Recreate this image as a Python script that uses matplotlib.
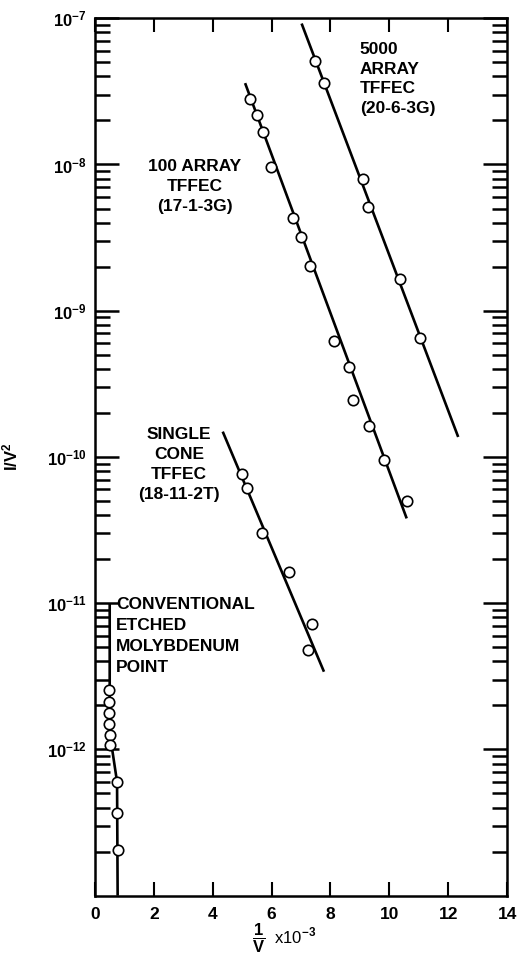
import matplotlib.pyplot as plt
from matplotlib.ticker import FixedLocator, NullFormatter

plt.rcParams['font.family'] = ['Liberation Sans', 'DejaVu Sans']
plt.rcParams['font.weight'] = 'bold'
plt.rcParams['mathtext.fontset'] = 'custom'
plt.rcParams['mathtext.rm'] = 'Liberation Sans:bold'
plt.rcParams['mathtext.default'] = 'rm'

# 5000 array TFFEC (20-6-3G)
a5000_x = [7.48, 7.79, 9.10, 9.29, 10.36, 11.04]
a5000_y = [5.1e-8, 3.6e-8, 8.0e-9, 5.1e-9, 1.64e-9, 6.5e-10]
a5000_fit_x = [7.02, 12.34]
a5000_fit_y = [9.2e-8, 1.37e-10]

# 100 array TFFEC (17-1-3G)
a100_x = [5.27, 5.49, 5.70, 5.98, 6.74, 6.99, 7.31, 8.13, 8.63, 8.78, 9.31, 9.82, 10.59]
a100_y = [2.8e-8, 2.17e-8, 1.66e-8, 9.6e-9, 4.3e-9, 3.2e-9, 2.03e-9,
          6.2e-10, 4.1e-10, 2.45e-10, 1.63e-10, 9.5e-11, 5.0e-11]
a100_fit_x = [5.10, 10.59]
a100_fit_y = [3.6e-8, 3.8e-11]

# single cone TFFEC (18-11-2T)
cone_x = [4.99, 5.18, 5.69, 6.59, 7.38, 7.25]
cone_y = [7.7e-11, 6.1e-11, 3.0e-11, 1.63e-11, 7.2e-12, 4.8e-12]
cone_fit_x = [4.34, 7.78]
cone_fit_y = [1.49e-10, 3.4e-12]

# conventional etched molybdenum point
moly_x = [0.46, 0.47, 0.48, 0.49, 0.50, 0.52, 0.75, 0.75, 0.77]
moly_y = [2.55e-12, 2.1e-12, 1.78e-12, 1.5e-12, 1.26e-12, 1.07e-12,
          6.0e-13, 3.7e-13, 2.05e-13]
moly_fit_x = [0.50, 0.50, 0.75, 0.77]
moly_fit_y = [1.0e-11, 1.3e-12, 6.0e-13, 1.0e-13]

x_ticks = [0, 2, 4, 6, 8, 10, 12, 14]
y_decades = [1e-12, 1e-11, 1e-10, 1e-9, 1e-8, 1e-7]
y_labels = ['$10^{-12}$', '$10^{-11}$', '$10^{-10}$', '$10^{-9}$', '$10^{-8}$', '$10^{-7}$']

fig = plt.figure(figsize=(5.19, 9.6), dpi=100)
ax = fig.add_axes([0.183, 0.067, 0.794, 0.914])
ax.set_yscale('log')
ax.set_xlim(0, 14)
ax.set_ylim(1e-13, 1e-7)

line_kw = dict(color='black', lw=1.9, solid_capstyle='butt', zorder=2)
mark_kw = dict(ls='none', marker='o', ms=7.5, mfc='white', mec='black', mew=1.2, zorder=3)

for fx, fy, px, py in [(a5000_fit_x, a5000_fit_y, a5000_x, a5000_y),
                       (a100_fit_x, a100_fit_y, a100_x, a100_y),
                       (cone_fit_x, cone_fit_y, cone_x, cone_y),
                       (moly_fit_x, moly_fit_y, moly_x, moly_y)]:
    ax.plot(fx, fy, **line_kw)
    ax.plot(px, py, **mark_kw)

# series captions
cap = dict(fontsize=12.5, linespacing=1.4)
ax.text(9.0, 6.9e-8, '5000\nARRAY\nTFFEC\n(20-6-3G)', ha='left', va='top', **cap)
ax.text(3.4, 7.1e-9, '100 ARRAY\nTFFEC\n(17-1-3G)',
        ha='center', va='center', multialignment='center', **cap)
ax.text(2.85, 8.9e-11, 'SINGLE\nCONE\nTFFEC\n(18-11-2T)',
        ha='center', va='center', multialignment='center', **cap)
ax.text(0.72, 1.1e-11, 'CONVENTIONAL\nETCHED\nMOLYBDENUM\nPOINT',
        ha='left', va='top', fontsize=12.5, linespacing=1.5)

# axes, ticks and labels
for side in ['left', 'right', 'top', 'bottom']:
    ax.spines[side].set_linewidth(1.8)

ax.set_xticks(x_ticks)
ax.set_xticklabels([str(t) for t in x_ticks], fontsize=12.5)
ax.yaxis.set_major_locator(FixedLocator(y_decades))
ax.set_yticklabels(y_labels, fontsize=12)
minors = [m * 10.0 ** e for e in range(-13, -7) for m in range(2, 10)]
ax.yaxis.set_minor_locator(FixedLocator(minors))
ax.yaxis.set_minor_formatter(NullFormatter())
ax.xaxis.set_minor_locator(FixedLocator([]))

ax.tick_params(axis='x', which='major', direction='in', length=10, width=1.5,
               top=True, bottom=True, pad=8)
ax.tick_params(axis='y', which='major', direction='in', length=17, width=1.8,
               left=True, right=True, pad=6)
ax.tick_params(axis='y', which='minor', direction='in', length=11, width=1.8,
               left=True, right=True)

ax.text(-0.205, 0.5, 'I/V$^{2}$', transform=ax.transAxes, fontsize=12,
        rotation=90, ha='center', va='center')
ax.set_xlabel(r'$\dfrac{1}{V}$  x10$^{-3}$', fontsize=12)
ax.xaxis.set_label_coords(0.46, -0.03)

fig.savefig('out.png', dpi=100)
